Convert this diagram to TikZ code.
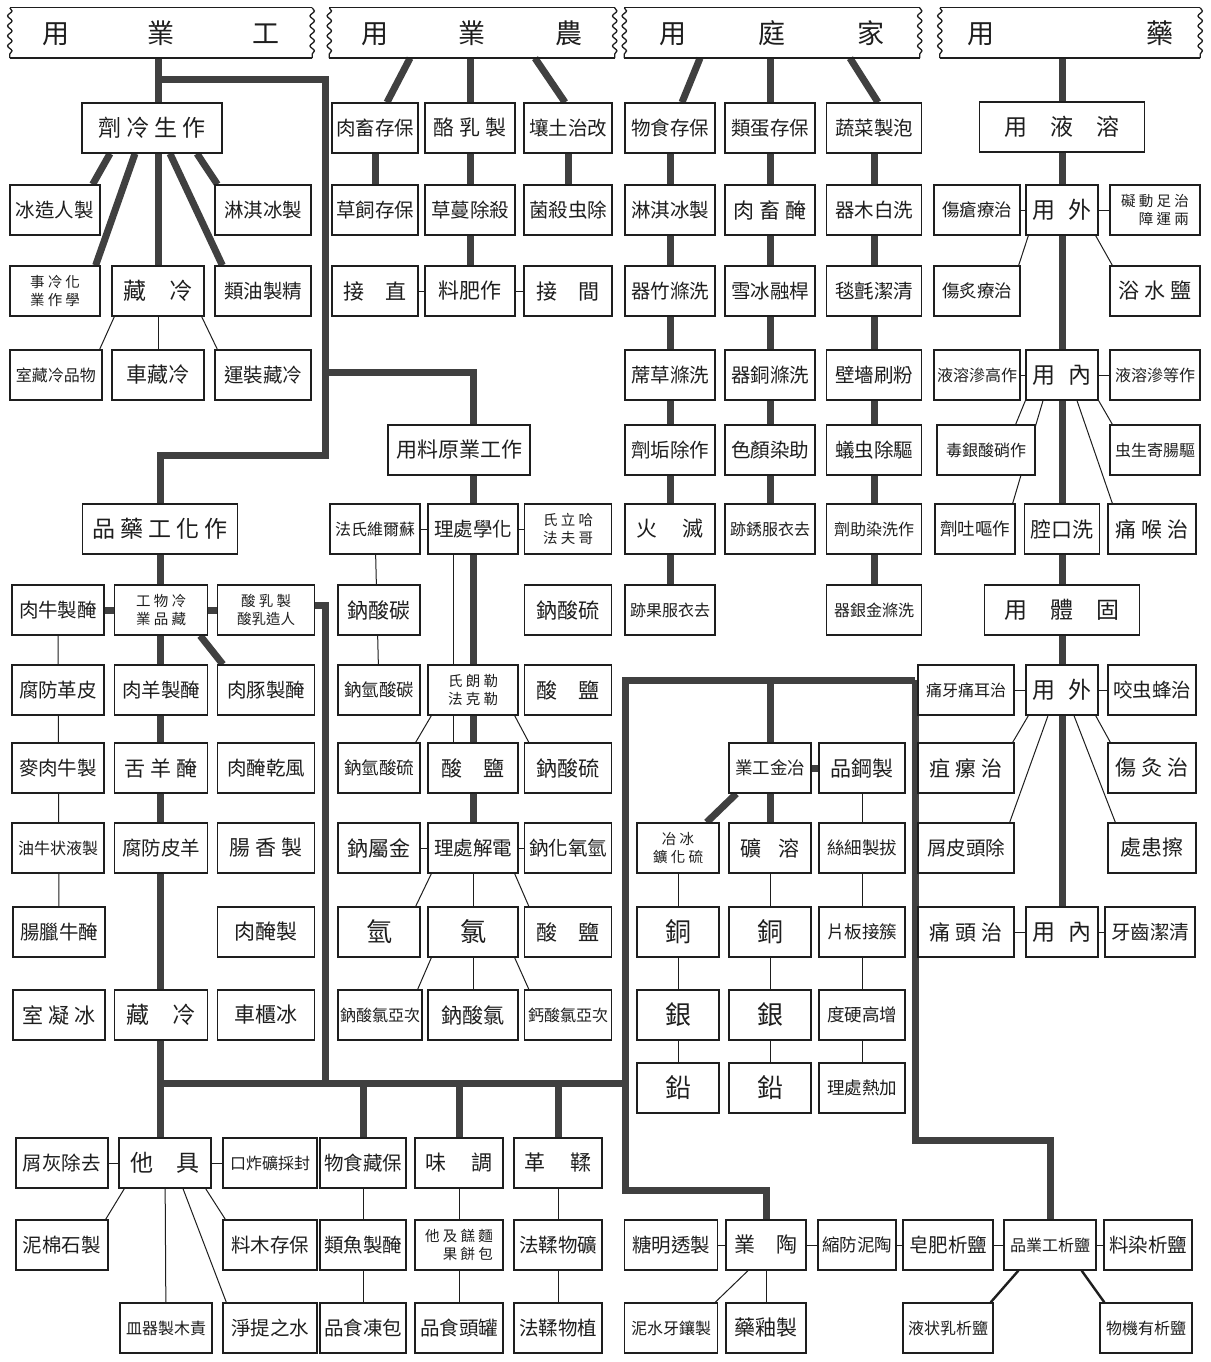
\documentclass[tikz,border=0pt]{standalone}
\usepackage{fontspec}
\newfontfamily\cjk{Noto Sans CJK TC}
\usetikzlibrary{positioning, backgrounds, calc, decorations.pathmorphing}
\definecolor{ink}{RGB}{30,30,30}
\definecolor{lead}{RGB}{64,64,64}
\tikzset{
  bx/.style   ={rectangle, draw=ink, line width=1.3pt, fill=white, text=ink,
                minimum width=90pt, minimum height=50pt, inner sep=1pt,
                align=center, font=\cjk\fontsize{19.5}{21}\selectfont},
  bxm/.style  ={bx, font=\cjk\fontsize{21}{23}\selectfont},
  bxn/.style  ={bx, font=\cjk\fontsize{17.5}{19}\selectfont},
  bxw/.style  ={bx, font=\cjk\fontsize{16}{18}\selectfont},
  bxt/.style  ={bx, font=\cjk\fontsize{14.5}{18}\selectfont},
  bxb/.style  ={bx, font=\cjk\fontsize{26}{28}\selectfont},
  hd/.style   ={bx, font=\cjk\fontsize{23}{25}\selectfont},
  ban/.style  ={rectangle, minimum height=50pt, inner sep=0pt, text=ink,
                font=\cjk\fontsize{27}{29}\selectfont},
  trunk/.style={draw=lead, line width=7pt},
  twig/.style ={draw=ink, line width=1pt},
  mid/.style  ={draw=ink, line width=2.4pt},
  wavy/.style ={draw=ink, line width=1.3pt, decorate,
                decoration={snake, amplitude=2.2pt, segment length=10pt}},
}
\newcommand\banframe[1]{%
  \draw[ink, line width=1.3pt] (#1.north west) -- (#1.north east);
  \draw[ink, line width=2pt] (#1.south west) -- (#1.south east);
  \draw[wavy] (#1.north west) -- (#1.south west);
  \draw[wavy] (#1.north east) -- (#1.south east);}

\begin{document}
\begin{tikzpicture}[x=1pt, y=-1pt]
\useasboundingbox (0,0) rectangle (1210,1362);

% banners
\node[ban, minimum width=302pt] (bi) at (161,33) {\makebox[238pt]{用\hfill 業\hfill 工}};
\node[ban, minimum width=285pt] (ba) at (472,33) {\makebox[221pt]{用\hfill 業\hfill 農}};
\node[ban, minimum width=295pt] (bh) at (772,33) {\makebox[226pt]{用\hfill 庭\hfill 家}};
\node[ban, minimum width=260pt] (bm) at (1070,33) {\makebox[206pt]{用\hfill 藥}};
\banframe{bi} \banframe{ba} \banframe{bh} \banframe{bm}

% refrigeration
\node[hd, minimum width=140pt] (u0) at (152,128) {劑 冷 生 作};
\node[bx] (ua1) at (55,210) {冰造人製};
\node[bx, minimum width=96pt] (uc1) at (263,210) {淋淇冰製};
\node[bxt] (ua2) at (55,291) {事 冷 化\\業 作 學};
\node[hd, minimum width=92pt] (ub2) at (158,291) {藏\hspace{1em}冷};
\node[bx, minimum width=96pt] (uc2) at (263,291) {類油製精};
\node[bxw, minimum width=92pt] (ua3) at (56,375) {室藏冷品物};
\node[bxm, minimum width=92pt] (ub3) at (158,375) {車藏冷};
\node[bx, minimum width=96pt] (uc3) at (263,375) {運裝藏冷};

% chemical products
\node[hd, minimum width=155pt] (v0) at (160,529) {品 藥 工 化 作};
\node[bx, minimum width=92pt] (va4) at (58,610) {肉牛製醃};
\node[bxt, minimum width=93pt] (vb4) at (161,610) {工 物 冷\\業 品 藏};
\node[bxt, minimum width=97pt] (vc4) at (266,610) {酸 乳 製\\酸乳造人};
\node[bx, minimum width=92pt] (va5) at (58,690) {腐防革皮};
\node[bx, minimum width=93pt] (vb5) at (161,690) {肉羊製醃};
\node[bx, minimum width=97pt] (vc5) at (266,690) {肉豚製醃};
\node[bx, minimum width=92pt] (va6) at (58,768) {麥肉牛製};
\node[bxm, minimum width=93pt] (vb6) at (161,768) {舌 羊 醃};
\node[bx, minimum width=97pt] (vc6) at (266,768) {肉醃乾風};
\node[bxw, minimum width=92pt] (va7) at (58,848) {油牛状液製};
\node[bx, minimum width=93pt] (vb7) at (161,848) {腐防皮羊};
\node[bxm, minimum width=97pt] (vc7) at (266,848) {腸 香 製};
\node[bx, minimum width=92pt] (va8) at (59,932) {腸臘牛醃};
\node[bxm, minimum width=97pt] (vc8) at (266,932) {肉醃製};
\node[bxm, minimum width=92pt] (va9) at (59,1015) {室 凝 冰};
\node[hd, minimum width=93pt] (vb9) at (161,1015) {藏\hspace{1em}冷};
\node[bxm, minimum width=97pt] (vc9) at (266,1015) {車櫃冰};

% agriculture
\node[bx, minimum width=86pt] (ad1) at (375,128) {肉畜存保};
\node[bxm] (ae1) at (470,128) {酪 乳 製};
\node[bx, minimum width=88pt] (af1) at (568,128) {壤土治改};
\node[bx, minimum width=86pt] (ad2) at (375,210) {草飼存保};
\node[bx] (ae2) at (470,210) {草蔓除殺};
\node[bx, minimum width=88pt] (af2) at (568,210) {菌殺虫除};
\node[bxm, minimum width=86pt] (ad3) at (375,291) {接\hspace{1em}直};
\node[bxm] (ae3) at (470,291) {料肥作};
\node[bxm, minimum width=88pt] (af3) at (568,291) {接\hspace{1em}間};

% industrial raw materials
\node[bxm, minimum width=142pt] (m0) at (459,450) {用料原業工作};
\node[bxw] (md4) at (375,529) {法氏維爾蘇};
\node[bx] (me4) at (473,529) {理處學化};
\node[bxt, minimum width=87pt] (mf4) at (568,529) {氏 立 哈\\法 夫 哥};
\node[bxm, minimum width=82pt] (md5) at (379,610) {鈉酸碳};
\node[bxm, minimum width=87pt] (mf5) at (568,610) {鈉酸硫};
\node[bxn, minimum width=82pt] (md6) at (379,690) {鈉氫酸碳};
\node[bxt] (me6) at (473,690) {氏 朗 勒\\法 克 勒};
\node[bxm, minimum width=87pt] (mf6) at (568,690) {酸\hspace{1em}鹽};
\node[bxn, minimum width=82pt] (md7) at (379,768) {鈉氫酸硫};
\node[bxm] (me7) at (473,768) {酸\hspace{1em}鹽};
\node[bxm, minimum width=87pt] (mf7) at (568,768) {鈉酸硫};
\node[bxm, minimum width=82pt] (md8) at (379,848) {鈉屬金};
\node[bx] (me8) at (473,848) {理處解電};
\node[bx, minimum width=87pt] (mf8) at (568,848) {鈉化氧氫};
\node[bxb, minimum width=82pt] (md9) at (379,932) {氫};
\node[bxb] (me9) at (473,932) {氯};
\node[bxm, minimum width=87pt] (mf9) at (568,932) {酸\hspace{1em}鹽};
\node[bxw, minimum width=84pt] (md10) at (380,1015) {鈉酸氯亞次};
\node[bxm] (me10) at (473,1015) {鈉酸氯};
\node[bxw, minimum width=87pt] (mf10) at (568,1015) {鈣酸氯亞次};

% household
\node[bx] (hg1) at (670,128) {物食存保};
\node[bx] (hg2) at (670,210) {淋淇冰製};
\node[bx] (hg3) at (670,291) {器竹滌洗};
\node[bx] (hg4) at (670,375) {蓆草滌洗};
\node[bx] (hg5) at (670,450) {劑垢除作};
\node[bxm] (hg6) at (670,529) {火\hspace{1.2em}滅};
\node[bxw] (hg7) at (670,610) {跡果服衣去};
\node[bx] (hh1) at (770,128) {類蛋存保};
\node[bxm] (hh2) at (770,210) {肉 畜 醃};
\node[bx] (hh3) at (770,291) {雪冰融桿};
\node[bx] (hh4) at (770,375) {器銅滌洗};
\node[bx] (hh5) at (770,450) {色顏染助};
\node[bxw] (hh6) at (770,529) {跡銹服衣去};
\node[bx, minimum width=95pt] (hi1) at (874,128) {蔬菜製泡};
\node[bx, minimum width=95pt] (hi2) at (874,210) {器木白洗};
\node[bx, minimum width=95pt] (hi3) at (874,291) {毯氈潔清};
\node[bx, minimum width=95pt] (hi4) at (874,375) {壁墻刷粉};
\node[bx, minimum width=95pt] (hi5) at (874,450) {蟻虫除驅};
\node[bxw, minimum width=95pt] (hi6) at (874,529) {劑助染洗作};
\node[bxw, minimum width=95pt] (hi7) at (874,610) {器銀金滌洗};

% metallurgy
\node[bxn, minimum width=82pt] (x0) at (770,768) {業工金冶};
\node[bxm, minimum width=86pt] (x1) at (862,768) {品鋼製};
\node[bxt, minimum width=82pt] (xk1) at (678,848) {冶 冰\\鑛 化 硫};
\node[bxm, minimum width=82pt] (xl1) at (770,848) {礦\hspace{0.8em}溶};
\node[bxn, minimum width=86pt] (xn1) at (862,848) {絲細製拔};
\node[bxb, minimum width=82pt] (xk2) at (678,932) {銅};
\node[bxb, minimum width=82pt] (xl2) at (770,932) {銅};
\node[bxn, minimum width=86pt] (xn2) at (862,932) {片板接簇};
\node[bxb, minimum width=82pt] (xk3) at (678,1015) {銀};
\node[bxb, minimum width=82pt] (xl3) at (770,1015) {銀};
\node[bxn, minimum width=86pt] (xn3) at (862,1015) {度硬高增};
\node[bxb, minimum width=82pt] (xk4) at (678,1088) {鉛};
\node[bxb, minimum width=82pt] (xl4) at (770,1088) {鉛};
\node[bxn, minimum width=86pt] (xn4) at (862,1088) {理處熱加};

% medicine
\node[hd, minimum width=165pt] (y0) at (1062,127) {用\hspace{1em}液\hspace{1em}溶};
\node[bxn, minimum width=86pt] (yl1) at (977,210) {傷瘡療治};
\node[hd, minimum width=72pt] (y1) at (1062,210) {用\hspace{0.6em}外};
\node[bxt, align=right] (yr1) at (1155,210) {礙 動 足 治\\障 運 兩};
\node[bxn, minimum width=86pt] (yl2) at (977,291) {傷炙療治};
\node[bxm] (yr2) at (1155,291) {浴 水 鹽};
\node[bxw, minimum width=86pt] (yl3) at (977,375) {液溶滲高作};
\node[hd, minimum width=72pt] (y3) at (1062,375) {用\hspace{0.6em}內};
\node[bxw] (yr3) at (1155,375) {液溶滲等作};
\node[bxw, minimum width=98pt] (yl4) at (986,450) {毒銀酸硝作};
\node[bxw] (yr4) at (1155,450) {虫生寄腸驅};
\node[bxn, minimum width=80pt] (yl5) at (975,529) {劑吐嘔作};
\node[bxm, minimum width=75pt] (y5) at (1062,529) {腔口洗};
\node[bxm, minimum width=88pt] (yr5) at (1152,529) {痛 喉 治};
\node[hd, minimum width=155pt] (y6) at (1062,610) {用\hspace{1em}體\hspace{1em}固};
\node[bxw, minimum width=96pt] (zl1) at (966,690) {痛牙痛耳治};
\node[hd, minimum width=72pt] (z1) at (1062,690) {用\hspace{0.6em}外};
\node[bx, minimum width=88pt] (zr1) at (1152,690) {咬虫蜂治};
\node[bxm, minimum width=96pt] (zl2) at (966,768) {疽 瘰 治};
\node[bxm, minimum width=88pt] (zr2) at (1152,768) {傷 灸 治};
\node[bx, minimum width=96pt] (zl3) at (966,848) {屑皮頭除};
\node[bxm, minimum width=88pt] (zr3) at (1152,848) {處患擦};
\node[bxm, minimum width=96pt] (zl4) at (966,932) {痛 頭 治};
\node[hd, minimum width=72pt] (z4) at (1062,932) {用\hspace{0.6em}內};
\node[bx, minimum width=90pt] (zr4) at (1150,932) {牙齒潔清};

% other uses
\node[bx, minimum width=92pt] (p0) at (62,1163) {屑灰除去};
\node[hd, minimum width=92pt] (p1) at (165,1163) {他\hspace{1em}具};
\node[bxw, minimum width=94pt] (p2) at (270,1163) {口炸礦採封};
\node[bx, minimum width=86pt] (q1) at (363,1163) {物食藏保};
\node[bxm, minimum width=88pt] (q2) at (459,1163) {味\hspace{1.2em}調};
\node[bxm, minimum width=88pt] (q3) at (558,1163) {革\hspace{1.2em}鞣};
\node[bx, minimum width=92pt] (p3) at (62,1245) {泥棉石製};
\node[bx, minimum width=94pt] (p4) at (270,1245) {料木存保};
\node[bx, minimum width=86pt] (q4) at (363,1245) {類魚製醃};
\node[bxt, minimum width=88pt, align=right] (q5) at (459,1245) {他 及 餻 麵\\果 餅 包};
\node[bx, minimum width=88pt] (q6) at (558,1245) {法鞣物礦};
\node[bxw, minimum width=92pt] (p5) at (166,1328) {皿器製木責};
\node[bx, minimum width=94pt] (p6) at (270,1328) {淨提之水};
\node[bx, minimum width=86pt] (q7) at (363,1328) {品食凍包};
\node[bx, minimum width=88pt] (q8) at (459,1328) {品食頭罐};
\node[bx, minimum width=88pt] (q9) at (558,1328) {法鞣物植};

% salting out and ceramics
\node[bx, minimum width=93pt] (t0) at (671,1245) {糖明透製};
\node[bxm, minimum width=80pt] (t1) at (766,1245) {業\hspace{1em}陶};
\node[bxn, minimum width=78pt] (t2) at (857,1245) {縮防泥陶};
\node[bx, minimum width=90pt] (t3) at (948,1245) {皂肥析鹽};
\node[bxw, minimum width=92pt] (t4) at (1050,1245) {品業工析鹽};
\node[bx, minimum width=88pt] (t5) at (1148,1245) {料染析鹽};
\node[bxw, minimum width=93pt] (w0) at (671,1328) {泥水牙鑲製};
\node[bxm, minimum width=80pt] (w1) at (766,1328) {藥釉製};
\node[bxw, minimum width=90pt] (w3) at (948,1328) {液状乳析鹽};
\node[bxw, minimum width=92pt] (w5) at (1146,1328) {物機有析鹽};

% trunk corners
\coordinate (ja) at (158,80);
\coordinate (jb) at (325,80);
\coordinate (jc) at (325,372);
\coordinate (jd) at (325,455);
\coordinate (je) at (160,455);
\coordinate (jf) at (473,372);
\coordinate (jg) at (325,605);
\coordinate (jh) at (325,1083);
\coordinate (ji) at (160,1083);
\coordinate (jj) at (625,1083);
\coordinate (jk) at (625,680);
\coordinate (jl) at (625,1190);
\coordinate (jm) at (t1.north |- jl);
\coordinate (jn) at (915,680);
\coordinate (jo) at (915,1140);
\coordinate (jp) at (t4.north |- jo);

\begin{scope}[on background layer]
\fill[white] (0,0) rectangle (1210,1362);
% main trunks
\draw[trunk] (bi.south -| ub2) -- (ub2);
\draw[trunk] (ja) -- (jb) -- (jd) -- (je) -- (v0);
\draw[trunk] (jc) -- (jf) -- (me8);
\draw[trunk] (v0) -- (v0 |- p1.north);
\draw[trunk] (vc4.east |- jg) -- (jg) -- (jh);
\draw[trunk] (ji) -- (jj);
\foreach \n in {q1,q2,q3} \draw[trunk] (\n.north |- ji) -- (\n.north);
\draw[trunk] (jn) -- (jk) -- (jl) -- (jm) -- (t1.north);
\draw[trunk] (jn) -- (jo) -- (jp) -- (t4.north);
\draw[trunk] (x0.north |- jk) -- (x0.north);
\draw[trunk] (bm.south -| y0) -- (z4);

% refrigeration
\draw[trunk] ([xshift=-42pt]u0.south) -- ([xshift=-8pt]ua1.north east);
\draw[trunk] ([xshift=-17pt]u0.south) -- ([xshift=-5pt]ua2.north east);
\draw[trunk] ([xshift=18pt]u0.south) -- ([xshift=8pt]uc2.north west);
\draw[trunk] ([xshift=45pt]u0.south) -- ([xshift=3pt]uc1.north west);
\draw[twig] ([xshift=3pt]ub2.south west) -- ([xshift=-3pt]ua3.north east);
\draw[twig] (ub2) -- (ub3);
\draw[twig] ([xshift=-3pt]ub2.south east) -- ([xshift=3pt]uc3.north west);

% chemical products
\draw[trunk] (va4) -- (vc4);
\draw[trunk] ([xshift=-8pt]vb4.south east) -- ([xshift=6pt]vc5.north west);
\draw[twig] (va4) -- (va8);

% agriculture
\draw[trunk] ([xshift=-62pt]ba.south) -- ([xshift=12pt]ad1.north);
\draw[trunk] (ba.south -| ae1) -- (ae1);
\draw[trunk] ([xshift=63pt]ba.south) -- ([xshift=-3pt]af1.north);
\draw[trunk] (ad1) -- (ad2);
\draw[trunk] (ae1) -- (ae3);
\draw[trunk] (af1) -- (af2);
\draw[twig] (ad3) -- (af3);

% raw materials
\draw[twig] (md4) -- (mf4);
\draw[twig] (md4) -- (md6);
\draw[twig] ([xshift=-20pt]me4.south) -- ([xshift=-20pt]me7.north);
\draw[twig] ([xshift=4pt]me6.south west) -- ([xshift=-5pt]md7.north east);
\draw[twig] ([xshift=-4pt]me6.south east) -- ([xshift=5pt]mf7.north west);
\draw[twig] (md8) -- (mf8);
\draw[twig] ([xshift=4pt]me8.south west) -- ([xshift=-5pt]md9.north east);
\draw[twig] (me8) -- (me10);
\draw[twig] ([xshift=-4pt]me8.south east) -- ([xshift=5pt]mf9.north west);
\draw[twig] ([xshift=4pt]me9.south west) -- ([xshift=-5pt]md10.north east);
\draw[twig] ([xshift=-4pt]me9.south east) -- ([xshift=5pt]mf10.north west);

% household
\draw[trunk] ([xshift=-72pt]bh.south) -- ([xshift=12pt]hg1.north);
\draw[trunk] (bh.south -| hh1) -- (hh1);
\draw[trunk] ([xshift=78pt]bh.south) -- ([xshift=4pt]hi1.north);
\draw[trunk] (hg1) -- (hg7);
\draw[trunk] (hh1) -- (hh6);
\draw[trunk] (hi1) -- (hi7);

% metallurgy
\draw[trunk] (x0) -- (x1);
\draw[trunk] ([xshift=8pt]x0.south west) -- ([xshift=-13pt]xk1.north east);
\draw[trunk] (x0) -- (xl1);
\draw[twig] (xk1) -- (xk4);
\draw[twig] (xl1) -- (xl4);
\draw[twig] (x1) -- (xn4);

% medicine
\draw[twig] (yl1) -- (yr1);
\draw[twig] ([xshift=3pt]y1.south west) -- ([xshift=-2pt]yl2.north east);
\draw[twig] ([xshift=-3pt]y1.south east) -- ([xshift=3pt]yr2.north west);
\draw[twig] (yl3) -- (yr3);
\draw[twig] (y3.south west) -- ([xshift=-20pt]yl4.north east);
\draw[twig] ([xshift=-19pt]y3.south) -- ([xshift=-3pt]yl5.north east);
\draw[twig] ([xshift=15pt]y3.south) -- ([xshift=5pt]yr5.north west);
\draw[twig] (y3.south east) -- ([xshift=3pt]yr4.north west);
\draw[twig] (zl1) -- (zr1);
\draw[twig] ([xshift=3pt]z1.south west) -- ([xshift=-2pt]zl2.north east);
\draw[twig] ([xshift=-14pt]z1.south) -- ([xshift=-5pt]zl3.north east);
\draw[twig] ([xshift=12pt]z1.south) -- ([xshift=8pt]zr3.north west);
\draw[twig] ([xshift=-3pt]z1.south east) -- ([xshift=3pt]zr2.north west);
\draw[twig] (zl4) -- (zr4);

% other uses
\draw[twig] (p0) -- (p2);
\draw[twig] ([xshift=6pt]p1.south west) -- ([xshift=-3pt]p3.north east);
\draw[twig] (p1) -- (p5);
\draw[twig] ([xshift=18pt]p1.south) -- ([xshift=4pt]p6.north west);
\draw[twig] ([xshift=-6pt]p1.south east) -- ([xshift=3pt]p4.north west);
\draw[twig] (q1) -- (q7);
\draw[twig] (q2) -- (q8);
\draw[twig] (q3) -- (q9);

% salting out and ceramics
\draw[twig] (t0) -- (t5);
\draw[twig] ([xshift=-18pt]t1.south) -- ([xshift=-3pt]w0.north east);
\draw[twig] (t1) -- (w1);
\draw[mid] ([xshift=15pt]t4.south west) -- ([xshift=-3pt]w3.north east);
\draw[mid] ([xshift=-15pt]t4.south east) -- ([xshift=5pt]w5.north west);
\end{scope}
\end{tikzpicture}
\end{document}
